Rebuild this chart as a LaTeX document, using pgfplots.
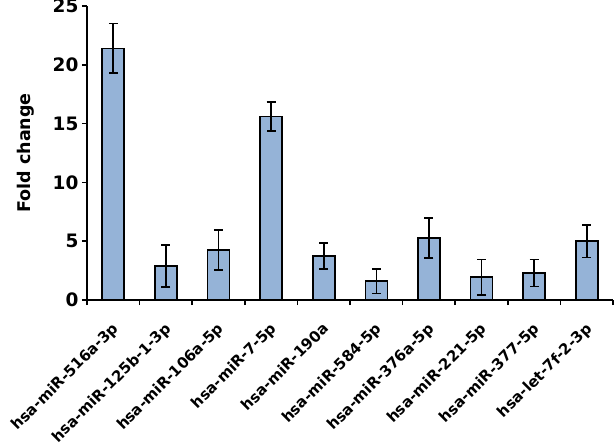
\documentclass[border=0pt]{standalone}
\usepackage{pgfplots}
\pgfplotsset{compat=1.18}
\usepackage{fontspec}
\setmainfont{DejaVu Sans}
\definecolor{barblue}{HTML}{95B3D7}
\begin{document}
\begin{tikzpicture}
\begin{axis}[
  scale only axis,
  width=526pt, height=294pt,
  xmin=-0.5, xmax=9.5,
  ymin=0, ymax=25,
  axis lines=left,
  axis line style={line width=1.6pt, -},
  ytick={0,5,10,15,20,25},
  xtick={0,...,9},
  xticklabels={hsa-miR-516a-3p,hsa-miR-125b-1-3p,hsa-miR-106a-5p,hsa-miR-7-5p,hsa-miR-190a,hsa-miR-584-5p,hsa-miR-376a-5p,hsa-miR-221-5p,hsa-miR-377-5p,hsa-let-7f-2-3p},
  minor xtick={-0.5,0.5,...,9.5},
  major x tick style={draw=none},
  tick align=outside,
  major tick length=5pt,
  minor tick length=5pt,
  tick style={line width=1.6pt, black},
  /pgf/number format/assume math mode=true,
  yticklabel style={font=\fontsize{18.5}{22}\selectfont\bfseries, xshift=0pt},
  xticklabel style={font=\fontsize{15}{18}\selectfont\bfseries, rotate=45, anchor=north east, inner sep=1pt, xshift=-12pt, yshift=-9pt},
  ylabel={Fold change},
  ylabel style={font=\fontsize{17.5}{21}\selectfont\bfseries},
  ylabel shift=12pt,
  clip=false,
]
\addplot[ybar, bar width=22pt, fill=barblue, draw=black, line width=1.6pt,
  error bars/.cd, y dir=both, y explicit,
  error bar style={line width=1.6pt, black},
  error mark options={rotate=90, mark size=4.5pt, line width=1.6pt, black}]
  coordinates {
  (0,21.4) +- (0,2.1)
  (1,2.9) +- (0,1.8)
  (2,4.25) +- (0,1.72)
  (3,15.6) +- (0,1.25)
  (4,3.75) +- (0,1.1)
  (5,1.6) +- (0,1.05)
  (6,5.25) +- (0,1.7)
  (7,1.95) +- (0,1.5)
  (8,2.3) +- (0,1.15)
  (9,5.0) +- (0,1.4)
  };
\end{axis}
\pgfresetboundingbox
\path[use as bounding box] (-87pt,-145pt) rectangle (527pt,300pt);
\end{tikzpicture}
\end{document}
